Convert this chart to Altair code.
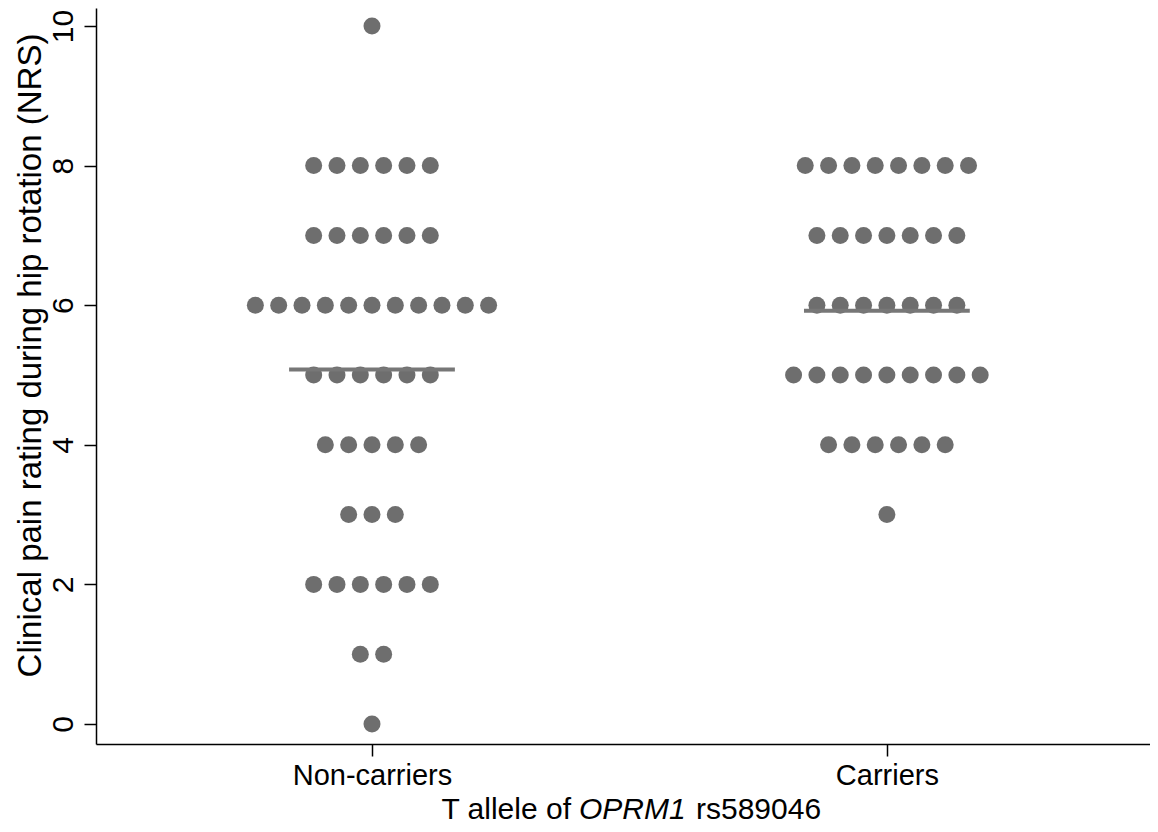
import altair as alt
import pandas as pd

# ---- data ----
scores = [0, 1, 2, 3, 4, 5, 6, 7, 8, 9, 10]
noncarrier_counts = [1, 2, 6, 3, 5, 6, 11, 6, 6, 0, 1]
carrier_counts = [0, 0, 0, 1, 6, 9, 7, 7, 8, 0, 0]
groups = ["Non-carriers", "Carriers"]
group_means = [5.08, 5.92]

FONT = "Liberation Sans"
DOT = "#6e6e6e"
STEP = 0.0453      # horizontal spacing between dots in a row (x units)
HALF = 0.161       # half length of the mean line (x units)

rows = []
for gi, counts in enumerate([noncarrier_counts, carrier_counts]):
    for s, k in zip(scores, counts):
        for i in range(k):
            rows.append({"group": groups[gi], "gi": gi, "score": s,
                         "xpos": gi + (i - (k - 1) / 2) * STEP})
dots = pd.DataFrame(rows)
means = pd.DataFrame({"group": groups, "gi": [0, 1], "mean": group_means})

xscale = alt.Scale(domain=[-0.536, 1.511], nice=False, zero=False)
yscale = alt.Scale(domain=[-0.287, 10.258], nice=False, zero=False)

xaxis = alt.Axis(values=[0, 1], labelExpr="datum.value == 0 ? 'Non-carriers' : 'Carriers'",
                 title=None, grid=False, domainColor="black", domainWidth=1.5,
                 tickColor="black", tickSize=12, tickWidth=1.5, labelFont=FONT,
                 labelFontSize=29, labelColor="black", labelPadding=5)
yaxis = alt.Axis(values=[0, 2, 4, 6, 8, 10], format="d",
                 title="Clinical pain rating during hip rotation (NRS)",
                 grid=False, domainColor="black", domainWidth=1.5, tickColor="black",
                 tickSize=12, tickWidth=1.5, labelFont=FONT, labelFontSize=30,
                 labelColor="black", labelAngle=270, labelAlign="center",
                 labelBaseline="bottom", labelPadding=6, titleFont=FONT,
                 titleFontSize=33, titleFontWeight="normal", titleColor="black",
                 titleAngle=270, titleX=-66, titleY=347, titleAlign="center",
                 titleBaseline="middle")

points = alt.Chart(dots).mark_point(filled=True, shape="circle", size=289,
                                    opacity=1, color=DOT, strokeWidth=0).encode(
    x=alt.X("xpos:Q", scale=xscale, axis=xaxis),
    y=alt.Y("score:Q", scale=yscale, axis=yaxis),
)

meanline = alt.Chart(means).transform_calculate(
    x1=f"datum.gi - {HALF}", x2=f"datum.gi + {HALF}"
).mark_rule(color="#777777", strokeWidth=4).encode(
    x=alt.X("x1:Q", scale=xscale),
    x2="x2:Q",
    y=alt.Y("mean:Q", scale=yscale),
)

title_base = dict(font=FONT, fontSize=30, color="black", baseline="alphabetic")
t1 = alt.Chart(pd.DataFrame({"t": ["T allele of"]})).mark_text(align="right", **title_base).encode(
    x=alt.value(475), y=alt.value(811), text="t:N")
t2 = alt.Chart(pd.DataFrame({"t": ["OPRM1"]})).mark_text(align="left", fontStyle="italic", **title_base).encode(
    x=alt.value(483), y=alt.value(811), text="t:N")
t3 = alt.Chart(pd.DataFrame({"t": ["rs589046"]})).mark_text(align="left", **title_base).encode(
    x=alt.value(600), y=alt.value(811), text="t:N")

chart = alt.layer(points, meanline, t1, t2, t3).properties(
    width=1054, height=736,
    autosize=alt.AutoSizeParams(type="none"),
    padding={"left": 88, "top": 0, "right": 0, "bottom": 84},
).configure_view(stroke=None)

chart.save("out.html", embed_options={"renderer": "svg", "actions": False})
